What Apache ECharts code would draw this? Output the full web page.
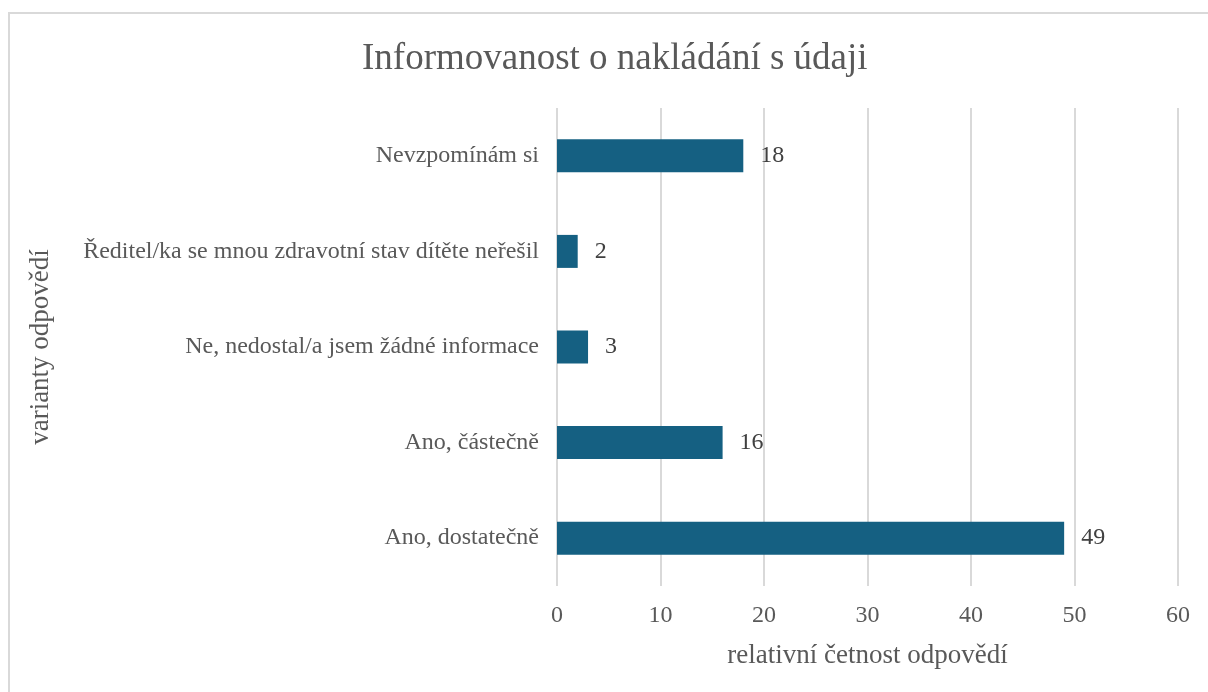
<!DOCTYPE html>
<html>
<head>
<meta charset="utf-8">
<script src="https://cdn.jsdelivr.net/npm/echarts@6/dist/echarts.min.js"></script>
<style>
  html, body { margin: 0; padding: 0; background: #fff; }
  #main { width: 1208px; height: 692px; }
</style>
</head>
<body>
<div id="main"></div>
<script>
const categories = [
  "Ano, dostatečně",
  "Ano, částečně",
  "Ne, nedostal/a jsem žádné informace",
  "Ředitel/ka se mnou zdravotní stav dítěte neřešil",
  "Nevzpomínám si"
];
const values = [49, 16, 3, 2, 18];
const xTicks = { min: 0, max: 60, interval: 10 };

const serif = '"Liberation Serif", "Times New Roman", serif';
const myChart = echarts.init(document.getElementById("main"));

const option = {
  animation: false,
  graphic: [
    {
      type: "rect",
      shape: { x: 9, y: 13, width: 1400, height: 900 },
      style: { fill: "none", stroke: "#d9d9d9", lineWidth: 2 },
      silent: true
    }
  ],
  title: {
    text: "Informovanost o nakládání s údaji",
    left: 357,
    top: 36,
    textStyle: {
      fontFamily: serif,
      fontSize: 37,
      fontWeight: "normal",
      color: "#595959"
    }
  },
  grid: {
    left: 557,
    right: 30,
    top: 108,
    bottom: 106
  },
  xAxis: {
    type: "value",
    min: xTicks.min,
    max: xTicks.max,
    interval: xTicks.interval,
    name: "relativní četnost odpovědí",
    nameLocation: "middle",
    nameGap: 56,
    nameTextStyle: { fontFamily: serif, fontSize: 27, color: "#595959" },
    axisLine: { show: false },
    axisTick: { show: false },
    axisLabel: { fontFamily: serif, fontSize: 24, color: "#595959", margin: 18 },
    splitLine: { lineStyle: { color: "#d9d9d9", width: 2 } }
  },
  yAxis: {
    type: "category",
    data: categories,
    name: "varianty odpovědí",
    nameLocation: "middle",
    nameGap: 503,
    nameRotate: 90,
    nameTextStyle: { fontFamily: serif, fontSize: 27, color: "#595959" },
    axisLine: { show: false },
    axisTick: { show: false },
    axisLabel: { fontFamily: serif, fontSize: 24, color: "#595959", margin: 18 },
    splitLine: { show: false }
  },
  series: [
    {
      type: "bar",
      data: values,
      barWidth: 33,
      itemStyle: { color: "#156082" },
      label: {
        show: true,
        position: "right",
        distance: 17,
        fontFamily: serif,
        fontSize: 24,
        color: "#404040"
      }
    }
  ]
};
myChart.setOption(option);
</script>
</body>
</html>
